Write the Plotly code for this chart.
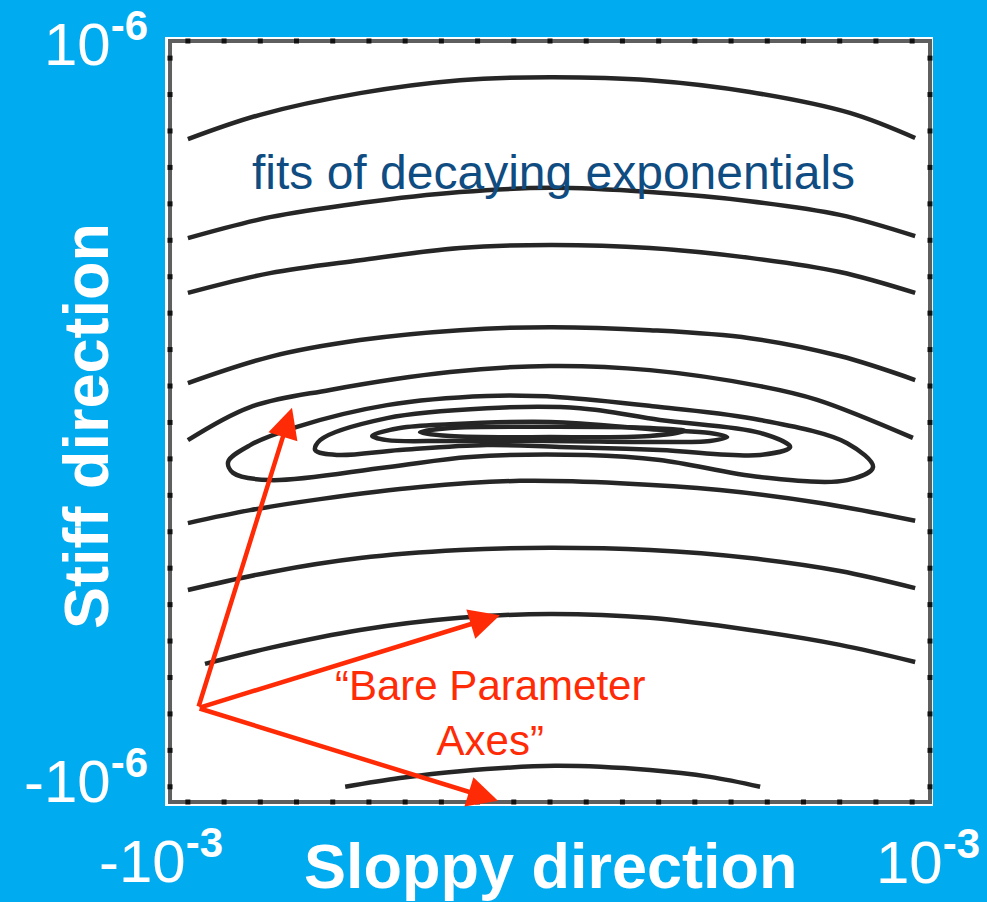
import numpy as np
import plotly.graph_objects as go

# Axes are in units of 1e-3 (sloppy, x) and 1e-6 (stiff, y)
# Open contour arcs, top to bottom
arc_1_x = [-0.953, -0.763, -0.5, -0.237, 0.0, 0.263, 0.526, 0.789, 0.961]
arc_1_y = [0.742, 0.806, 0.863, 0.897, 0.905, 0.897, 0.866, 0.811, 0.745]

arc_2_x = [-0.953, -0.737, -0.5, -0.237, 0.0, 0.263, 0.526, 0.763, 0.961]
arc_2_y = [0.482, 0.537, 0.574, 0.603, 0.614, 0.603, 0.579, 0.543, 0.487]

arc_3_x = [-0.953, -0.737, -0.5, -0.237, 0.0, 0.263, 0.526, 0.763, 0.961]
arc_3_y = [0.338, 0.390, 0.424, 0.456, 0.464, 0.456, 0.430, 0.393, 0.338]

arc_4_x = [-0.953, -0.737, -0.5, -0.237, 0.0, 0.263, 0.526, 0.763, 0.961]
arc_4_y = [0.101, 0.170, 0.214, 0.240, 0.248, 0.240, 0.219, 0.172, 0.109]

arc_5_x = [-0.953, -0.789, -0.579, -0.263, 0.0, 0.263, 0.553, 0.703, 0.955]
arc_5_y = [-0.049, 0.038, 0.083, 0.130, 0.146, 0.135, 0.093, 0.057, -0.043]

arc_6_x = [-0.953, -0.789, -0.605, -0.342, -0.079, 0.184, 0.447, 0.711, 0.961]
arc_6_y = [-0.267, -0.233, -0.204, -0.172, -0.156, -0.162, -0.180, -0.214, -0.261]

arc_7_x = [-0.953, -0.737, -0.5, -0.237, 0.0, 0.263, 0.526, 0.763, 0.961]
arc_7_y = [-0.443, -0.396, -0.359, -0.338, -0.332, -0.338, -0.359, -0.393, -0.438]

arc_8_x = [-0.908, -0.737, -0.5, -0.237, 0.0, 0.263, 0.526, 0.763, 0.961]
arc_8_y = [-0.637, -0.595, -0.548, -0.516, -0.506, -0.516, -0.548, -0.587, -0.632]

arc_9_x = [-0.539, -0.395, -0.237, 0.013, 0.263, 0.421, 0.553]
arc_9_y = [-0.960, -0.937, -0.919, -0.905, -0.916, -0.934, -0.960]

# Closed contours around the best fit, outermost first
ring_1_x = [-0.847, -0.789, -0.666, -0.429, -0.166, 0.026, 0.289, 0.553, 0.782, 0.850,
            0.782, 0.553, 0.289, 0.097, -0.211, -0.429, -0.737, -0.834, -0.847]
ring_1_y = [-0.106, -0.062, -0.014, 0.043, 0.067, 0.064, 0.038, 0.004, -0.057, -0.120,
            -0.154, -0.146, -0.101, -0.088, -0.093, -0.120, -0.154, -0.135, -0.106]

ring_2_x = [-0.618, -0.605, -0.429, -0.166, 0.079, 0.289, 0.553, 0.632,
            0.553, 0.289, 0.026, -0.166, -0.395, -0.561, -0.618]
ring_2_y = [-0.075, -0.049, 0.009, 0.035, 0.035, 0.004, -0.030, -0.067,
            -0.088, -0.075, -0.067, -0.062, -0.075, -0.088, -0.075]

ring_3_x = [-0.468, -0.395, -0.263, 0.0, 0.289, 0.421, 0.466,
            0.421, 0.289, 0.0, -0.263, -0.429, -0.468]
ring_3_y = [-0.038, -0.017, -0.007, -0.001, -0.022, -0.030, -0.041,
            -0.051, -0.054, -0.051, -0.051, -0.049, -0.038]

ring_4_x = [-0.342, -0.263, 0.0, 0.263, 0.355, 0.263, 0.0, -0.263, -0.342]
ring_4_y = [-0.028, -0.017, -0.014, -0.017, -0.025, -0.038, -0.041, -0.038, -0.028]

# "Bare parameter axes": common origin and the three arrow tips
axes_origin = (-0.926, -0.753)
axes_tips_x = [-0.679, -0.132, -0.137]
axes_tips_y = [0.036, -0.509, -0.997]

# Corner labels of the two directions
x_tick_text = ["-10<sup><b>-3</b></sup>", "10<sup><b>-3</b></sup>"]
y_tick_text = ["10<sup><b>-6</b></sup>", "-10<sup><b>-6</b></sup>"]

BLUE = "#00ABF0"
RED = "#FF2B06"
LINE = "#262626"
FONT = "Liberation Sans, Arial, sans-serif"

curves = [
    (arc_1_x, arc_1_y), (arc_2_x, arc_2_y), (arc_3_x, arc_3_y), (arc_4_x, arc_4_y),
    (arc_5_x, arc_5_y), (arc_6_x, arc_6_y), (arc_7_x, arc_7_y), (arc_8_x, arc_8_y),
    (arc_9_x, arc_9_y), (ring_1_x, ring_1_y), (ring_2_x, ring_2_y),
    (ring_3_x, ring_3_y), (ring_4_x, ring_4_y),
]

fig = go.Figure()
for cx, cy in curves:
    fig.add_trace(go.Scatter(
        x=cx, y=cy, mode="lines",
        line=dict(color=LINE, width=4.5, shape="spline", smoothing=1.0),
        hoverinfo="skip", showlegend=False,
    ))

# dotted tick marks along the box frame
tx = np.linspace(-0.953, 0.953, 21)
ty = np.linspace(-0.960, 0.955, 21)
frame_x = np.concatenate([tx, tx, np.full_like(ty, -1.0), np.full_like(ty, 1.0)])
frame_y = np.concatenate([np.full_like(tx, 1.0), np.full_like(tx, -1.0), ty, ty])
fig.add_trace(go.Scatter(
    x=frame_x, y=frame_y, mode="markers",
    marker=dict(symbol="square", size=5, color="#111111"),
    hoverinfo="skip", showlegend=False, cliponaxis=False,
))

fig.add_shape(type="rect", x0=-1, x1=1, y0=-1, y1=1, xref="x", yref="y",
              line=dict(color="#5f5f5f", width=4), layer="below")

annotations = []
for tip_x, tip_y in zip(axes_tips_x, axes_tips_y):
    annotations.append(dict(
        x=tip_x, y=tip_y, xref="x", yref="y",
        ax=axes_origin[0], ay=axes_origin[1], axref="x", ayref="y",
        text="", showarrow=True, arrowhead=2, arrowsize=1.35,
        arrowwidth=4.5, arrowcolor=RED, standoff=0,
    ))


def px_x(p):
    return (p - 165) / 768


def px_y(p):
    return (806 - p) / 769


def label(x, y, text, size, color, xanchor="center", **kw):
    return dict(x=px_x(x), y=px_y(y), xref="paper", yref="paper",
                xanchor=xanchor, yanchor="middle", text=text, showarrow=False,
                font=dict(family=FONT, size=size, color=color), **kw)


annotations += [
    label(553, 172, "fits of decaying exponentials", 48, "#0F4C81"),
    label(490, 713, "\u201cBare Parameter<br>Axes\u201d", 42, RED),
    label(86, 426, "<b>Stiff direction</b>", 63, "white", textangle=-90),
    label(551, 866, "<b>Sloppy direction</b>", 63, "white"),
    label(161, 857, x_tick_text[0], 60, "white"),
    label(928, 858, x_tick_text[1], 60, "white"),
    label(150, 40, y_tick_text[0], 60, "white", xanchor="right"),
    label(150, 777, y_tick_text[1], 60, "white", xanchor="right"),
]

axis_common = dict(showgrid=False, zeroline=False, showticklabels=False,
                   showline=False, ticks="", fixedrange=True)
fig.update_layout(
    width=987, height=902,
    margin=dict(l=165, r=54, t=37, b=96, pad=0),
    paper_bgcolor=BLUE, plot_bgcolor="white",
    xaxis=dict(range=[-1.0132, 1.0079], **axis_common),
    yaxis=dict(range=[-1.0105, 1.0105], **axis_common),
    annotations=annotations,
    showlegend=False,
)

fig.write_html("out.html")
